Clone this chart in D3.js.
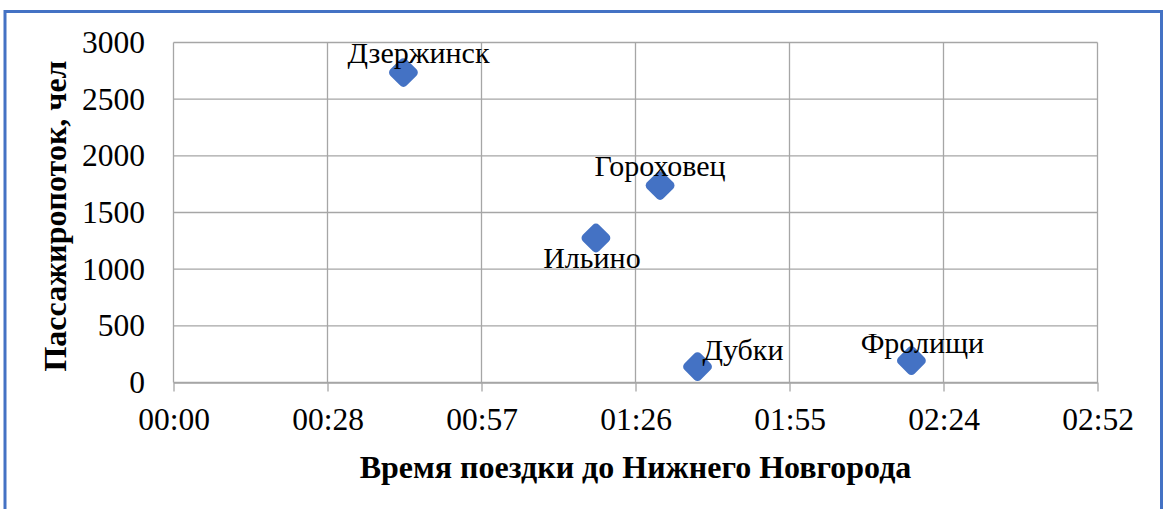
<!DOCTYPE html>
<html>
<head>
<meta charset="utf-8">
<script src="https://cdn.jsdelivr.net/npm/d3@7"></script>
<style>
  html, body { margin: 0; padding: 0; background: #fff; }
  svg { display: block; }
  text { font-family: "Liberation Serif", "Times New Roman", serif; fill: #000; }
</style>
</head>
<body>
<svg id="chart" width="1163" height="509"></svg>
<script>
// Stations: travel time to Nizhny Novgorod (minutes) and passenger flow (people)
const stations = ["Дзержинск", "Гороховец", "Ильино", "Дубки", "Фролищи"];
const travelMinutes = [43, 91, 79, 98, 138];
const passengers = [2735, 1738, 1275, 140, 193];

// Label anchoring per station: text-anchor and offset from the marker
const labelAnchor = ["middle", "middle", "middle", "start", "middle"];
const labelDx = [15, 0, -4, 5, 11];
const labelDy = [-10, -10, 30, -7, -8];

// Axis ticks: time axis steps by 0.02 day (28.8 min)
const xTickValues = [0, 28.8, 57.6, 86.4, 115.2, 144, 172.8];
const xTickLabels = ["00:00", "00:28", "00:57", "01:26", "01:55", "02:24", "02:52"];
const yTickValues = [0, 500, 1000, 1500, 2000, 2500, 3000];

const xTitle = "Время поездки до Нижнего Новгорода";
const yTitle = "Пассажиропоток, чел";

const svg = d3.select("#chart");
const plot = { left: 173.5, top: 42.5, right: 1097.5, bottom: 382.5 };

const x = d3.scaleLinear().domain([0, 172.8]).range([plot.left, plot.right]);
const y = d3.scaleLinear().domain([0, 3000]).range([plot.bottom, plot.top]);

// Outer chart frame
svg.append("rect")
  .attr("x", 5).attr("y", 11.5)
  .attr("width", 1156.5).attr("height", 520)
  .attr("fill", "none")
  .attr("stroke", "#4472C4")
  .attr("stroke-width", 3);

// Gridlines
const grid = svg.append("g").attr("stroke", "#a6a6a6").attr("stroke-width", 1.3);
grid.selectAll("line.h").data(yTickValues).join("line")
  .attr("x1", plot.left).attr("x2", plot.right)
  .attr("y1", d => y(d)).attr("y2", d => y(d));
grid.selectAll("line.v").data(xTickValues).join("line")
  .attr("x1", d => x(d)).attr("x2", d => x(d))
  .attr("y1", plot.top).attr("y2", plot.bottom);

// X axis with outward ticks
const xAxis = d3.axisBottom(x)
  .tickValues(xTickValues)
  .tickFormat((d, i) => xTickLabels[i])
  .tickSize(9)
  .tickSizeOuter(0)
  .tickPadding(16);
const gx = svg.append("g").attr("transform", `translate(0,${plot.bottom})`).call(xAxis);
gx.select(".domain").attr("stroke", "#a6a6a6").attr("stroke-width", 1.3);
gx.selectAll(".tick line").attr("stroke", "#a6a6a6").attr("stroke-width", 1.3);
gx.selectAll(".tick text")
  .style("font-family", '"Liberation Serif", "Times New Roman", serif')
  .style("font-size", "31.5px").attr("fill", "#000");

// Y axis, labels only
const yAxis = d3.axisLeft(y)
  .tickValues(yTickValues)
  .tickFormat(d3.format("d"))
  .tickSize(0)
  .tickPadding(28.5);
const gy = svg.append("g").attr("transform", `translate(${plot.left},0)`).call(yAxis);
gy.select(".domain").remove();
gy.selectAll(".tick text")
  .style("font-family", '"Liberation Serif", "Times New Roman", serif')
  .style("font-size", "31.5px").attr("fill", "#000");

// Axis titles
svg.append("text")
  .attr("x", (plot.left + plot.right) / 2)
  .attr("y", 478)
  .attr("text-anchor", "middle")
  .style("font-size", "32px").style("font-weight", "bold")
  .text(xTitle);

svg.append("text")
  .attr("transform", `translate(66,216) rotate(-90)`)
  .attr("text-anchor", "middle")
  .style("font-size", "32px").style("font-weight", "bold")
  .text(yTitle);

// Markers: rounded diamonds
const pts = stations.map((name, i) => ({
  name, t: travelMinutes[i], p: passengers[i],
  anchor: labelAnchor[i], dx: labelDx[i], dy: labelDy[i]
}));
const side = 23;
svg.append("g").selectAll("rect").data(pts).join("rect")
  .attr("x", -side / 2).attr("y", -side / 2)
  .attr("width", side).attr("height", side)
  .attr("rx", 4.5).attr("ry", 4.5)
  .attr("fill", "#4472C4")
  .attr("transform", d => `translate(${x(d.t)},${y(d.p)}) rotate(45)`);

// Data labels
svg.append("g").selectAll("text").data(pts).join("text")
  .attr("x", d => x(d.t) + d.dx)
  .attr("y", d => y(d.p) + d.dy)
  .attr("text-anchor", d => d.anchor)
  .style("font-size", "30px")
  .text(d => d.name);
</script>
</body>
</html>
